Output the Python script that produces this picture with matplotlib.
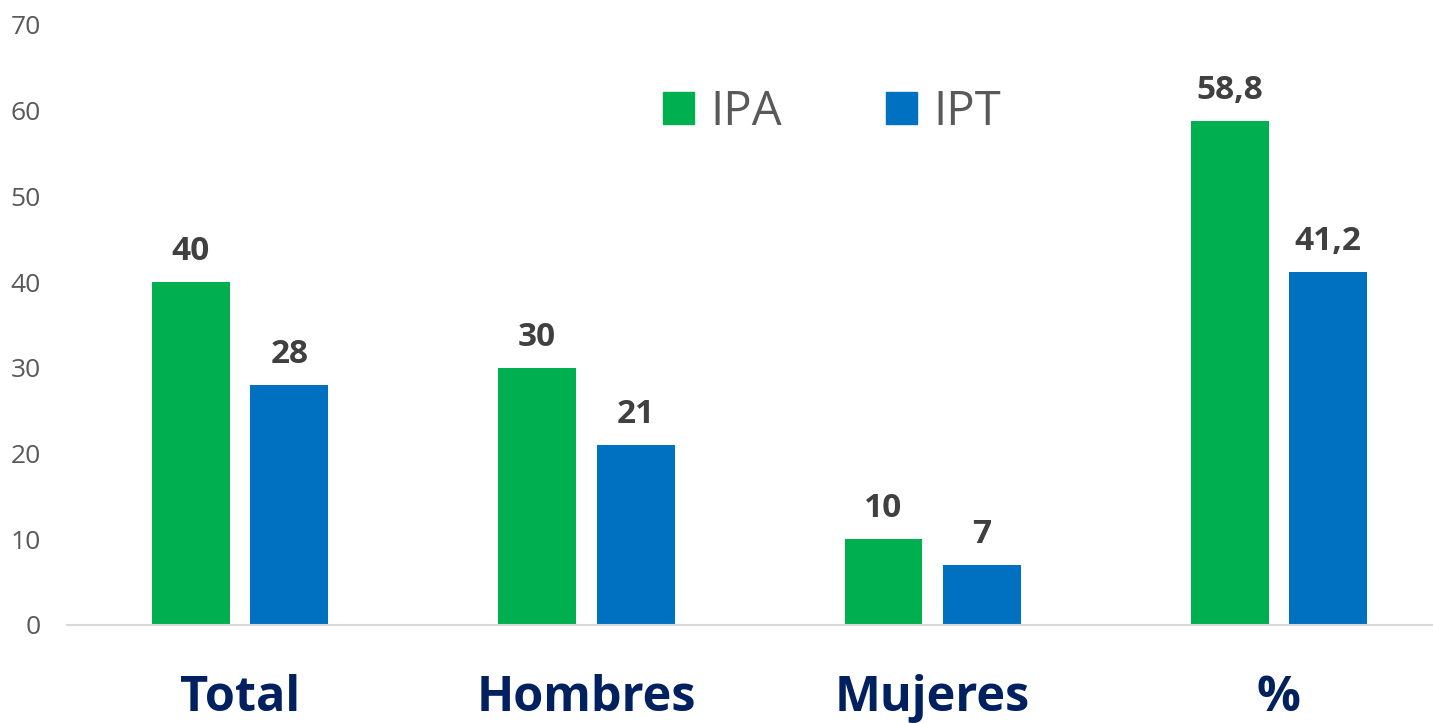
import matplotlib
matplotlib.use("Agg")
import matplotlib.pyplot as plt
from matplotlib.patches import Patch
import numpy as np

categories = ["Total", "Hombres", "Mujeres", "%"]
ipa = [40, 30, 10, 58.8]
ipt = [28, 21, 7, 41.2]
series_names = ["IPA", "IPT"]
yticks = [0, 10, 20, 30, 40, 50, 60, 70]

GREEN = "#00B050"
BLUE = "#0070C0"

plt.rcParams['font.family'] = ['Open Sans', 'DejaVu Sans']

fig = plt.figure(figsize=(14.33, 7.23), dpi=100)
ax = fig.add_axes([67/1433, (723-625)/723, 1 - 67/1433, 600/723])

x = np.arange(len(categories))
w = 0.225
off = 0.142
b1 = ax.bar(x - off, ipa, w, color=GREEN, label=series_names[0])
b2 = ax.bar(x + off, ipt, w, color=BLUE, label=series_names[1])

fmt = lambda v: ('{:g}'.format(v)).replace('.', ',')
for bars, vals in ((b1, ipa), (b2, ipt)):
    ax.bar_label(bars, labels=[fmt(v) for v in vals], padding=10,
                 fontsize=24, fontweight='bold', color='#404040')

ax.set_xlim(-0.5, 3.445)
ax.set_ylim(0, 70)
ax.set_yticks(yticks)
ax.set_yticklabels([str(t) for t in yticks])
ax.set_xticks(x)
ax.set_xticklabels(categories)
ax.tick_params(axis='y', length=0, pad=19, labelsize=19, labelcolor='#595959')
ax.tick_params(axis='x', length=0, pad=35, labelsize=35, labelcolor='#002060')
for lab in ax.get_xticklabels():
    lab.set_fontweight('bold')
for s in ['top', 'right', 'left']:
    ax.spines[s].set_visible(False)
ax.spines['bottom'].set_color('#D9D9D9')
ax.spines['bottom'].set_linewidth(1.5)

handles = [Patch(color=GREEN, label=series_names[0]), Patch(color=BLUE, label=series_names[1])]
fig.legend(handles=handles, loc='center', bbox_to_anchor=(832/1433, 1 - 112/723),
           ncol=2, frameon=False, fontsize=34, labelcolor='#595959',
           handlelength=0.65, handleheight=0.65, handletextpad=0.35, columnspacing=2.2)

fig.savefig("out.png", dpi=100)
